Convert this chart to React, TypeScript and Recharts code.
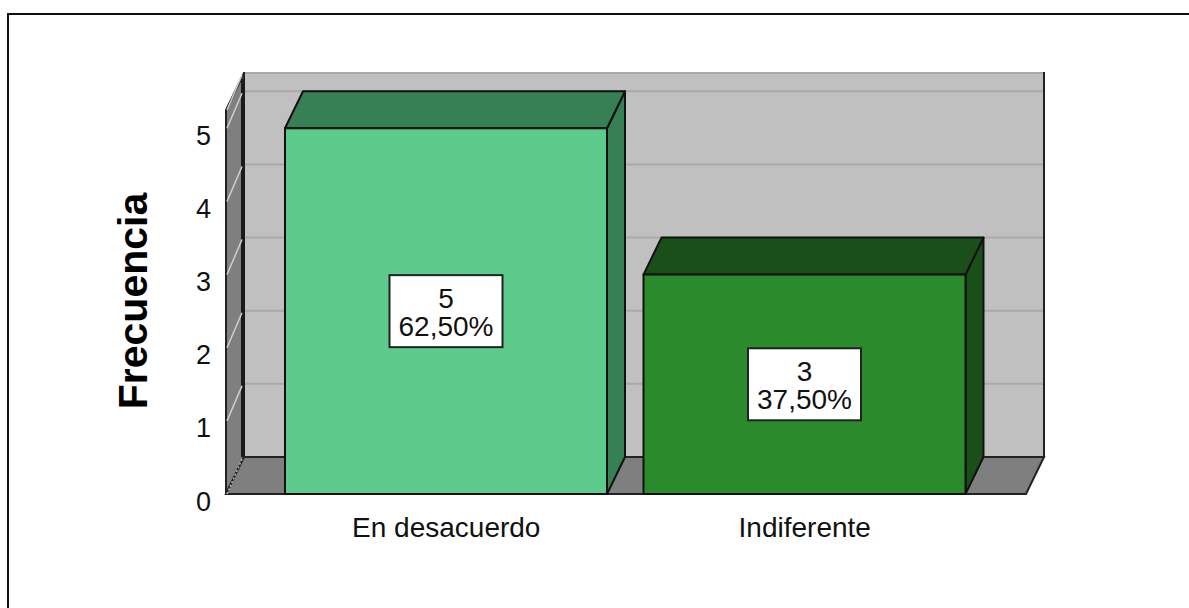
import React from "react";
import { BarChart, Bar, XAxis, YAxis, CartesianGrid, LabelList, Label } from "recharts";

const categories = ["En desacuerdo", "Indiferente"];
const counts = [5, 3];
const percents = ["62,50%", "37,50%"];
const yTicks = [0, 1, 2, 3, 4, 5];

const data = categories.map((name, i) => ({ name, value: counts[i], pct: percents[i] }));

// 3D depth offset of the SPSS-like box
const DX = 18;
const DY = -37;

const barColors = [
  { front: "#5ccb8c", dark: "#378055" },
  { front: "#2b8a2b", dark: "#1b4f19" },
];

const FONT = "'Liberation Sans', Arial, sans-serif";

function renderWalls(x: number, y: number, w: number, h: number) {
  const b = y + h;
  return (
    <g>
      <rect x={x + DX} y={y + DY} width={w} height={h} fill="#c0c0c0" stroke="#222" strokeWidth={2} />
      <polygon
        points={`${x},${y} ${x + DX},${y + DY} ${x + DX},${b + DY} ${x},${b}`}
        fill="#7f7f7f"
        stroke="#222"
        strokeWidth={2}
      />
      <line x1={x + DX - 1} y1={y + DY + 6} x2={x + DX - 1} y2={b + DY} stroke="#1a1a1a" strokeWidth={4} />
      <polygon
        points={`${x},${b} ${x + w},${b} ${x + w + DX},${b + DY} ${x + DX},${b + DY}`}
        fill="#7f7f7f"
        stroke="#222"
        strokeWidth={2}
      />
    </g>
  );
}

const gridLine = (p: any) => {
  const { x1, y1, x2, index, x, y, width, height } = p;
  const isFloor = Math.abs(y1 - (y + height)) < 1;
  return (
    <g key={`g-${index}`}>
      {index === 0 && renderWalls(x, y, width, height)}
      {!isFloor && (
        <line x1={x1 + DX + 1} y1={y1 + DY} x2={x2 + DX - 1} y2={y1 + DY} stroke="#a9a9a9" strokeWidth={2} />
      )}
      <line
        x1={x1 + 1}
        y1={y1}
        x2={x1 + DX - 2}
        y2={y1 + DY + 2}
        stroke={isFloor ? "#b5b5b5" : "#cfcfcf"}
        strokeWidth={1.5}
        strokeDasharray={isFloor ? "2 2" : undefined}
      />
    </g>
  );
};

const Bar3D = (props: any) => {
  const { x, y, width, height, index } = props;
  const c = barColors[index % barColors.length];
  const top = `M${x},${y} L${x + DX},${y + DY} L${x + width + DX},${y + DY} L${x + width},${y} Z`;
  const side = `M${x + width},${y} L${x + width + DX},${y + DY} L${x + width + DX},${y + height + DY} L${x + width},${y + height} Z`;
  return (
    <g>
      <path d={side} fill={c.dark} stroke="#111" strokeWidth={2} strokeLinejoin="round" />
      <path d={top} fill={c.dark} stroke="#111" strokeWidth={2} strokeLinejoin="round" />
      <rect x={x} y={y} width={width} height={height} fill={c.front} stroke="#111" strokeWidth={2} />
    </g>
  );
};

const renderBox = (props: any) => {
  const { x, y, width, height, index } = props;
  const cx = x + width / 2;
  const cy = y + height / 2;
  const bw = 113;
  const bh = 72;
  return (
    <g>
      <rect x={cx - bw / 2} y={cy - bh / 2} width={bw} height={bh} fill="#fff" stroke="#222" strokeWidth={2} />
      <text x={cx} y={cy - 13} textAnchor="middle" dominantBaseline="central" fontSize={28} fill="#111" fontFamily={FONT}>
        {counts[index]}
      </text>
      <text x={cx} y={cy + 15} textAnchor="middle" dominantBaseline="central" fontSize={28} fill="#111" fontFamily={FONT}>
        {percents[index]}
      </text>
    </g>
  );
};

const renderYLabel = (p: any) => {
  const vb = p.viewBox;
  const tx = vb.x - 19;
  const ty = vb.y + vb.height / 2 - 1;
  return (
    <text
      x={tx}
      y={ty}
      transform={`rotate(-90 ${tx} ${ty})`}
      textAnchor="middle"
      fontSize={41}
      fontWeight="bold"
      fill="#000"
      fontFamily={FONT}
    >
      Frecuencia
    </text>
  );
};

export default function App() {
  return (
    <div style={{ position: "absolute", left: 0, top: 0, width: 1189, height: 608, background: "#fff", overflow: "hidden", fontFamily: FONT }}>
      <div
        style={{
          position: "absolute",
          left: 7,
          top: 13,
          width: 1300,
          height: 700,
          borderTop: "2px solid #111",
          borderLeft: "2px solid #111",
        }}
      />
      <div style={{ position: "absolute", left: 0, top: 0 }}>
        <BarChart width={1189} height={608} data={data} margin={{ top: 110, right: 163, bottom: 54, left: 166 }} barSize={322}>
          <CartesianGrid vertical={false} horizontal={gridLine} />
          <XAxis
            dataKey="name"
            axisLine={false}
            tickLine={false}
            tickSize={0}
            tickMargin={23}
            height={60}
            padding={{ left: 41, right: 42 }}
            tick={{ fill: "#111", fontSize: 28, fontFamily: FONT }}
            interval={0}
          />
          <YAxis
            domain={[0, 5.25]}
            ticks={yTicks}
            axisLine={false}
            tickLine={false}
            tickSize={0}
            tickMargin={15}
            width={60}
            tick={{ fill: "#111", fontSize: 27, fontFamily: FONT, dy: 7 }}
          >
            <Label content={renderYLabel} />
          </YAxis>
          <Bar dataKey="value" shape={Bar3D} isAnimationActive={false}>
            <LabelList dataKey="value" content={renderBox} />
          </Bar>
        </BarChart>
      </div>
    </div>
  );
}
